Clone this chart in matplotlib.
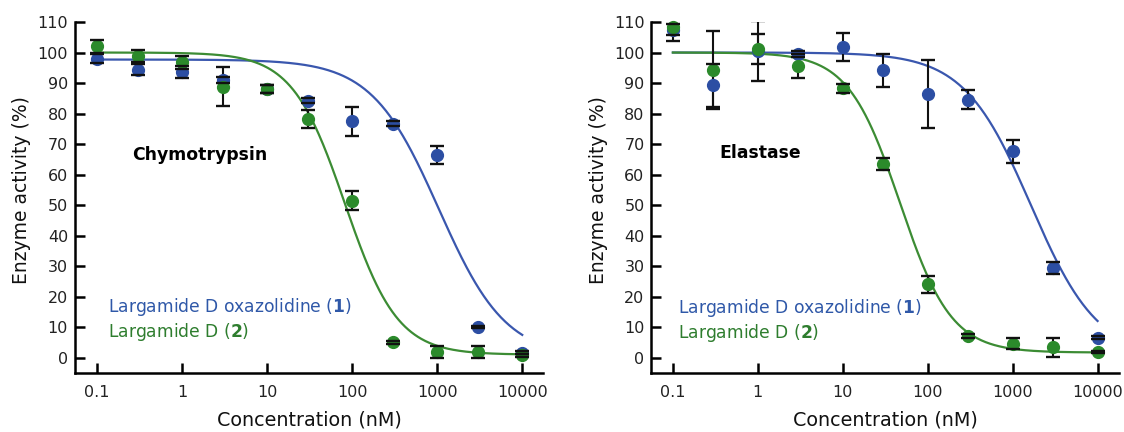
import numpy as np
import matplotlib
matplotlib.use('Agg')
import matplotlib.pyplot as plt
from matplotlib.ticker import NullLocator

plt.rcParams['font.family'] = 'DejaVu Sans'
plt.rcParams['mathtext.fontset'] = 'dejavusans'

# concentrations (nM)
conc = [0.1, 0.3, 1, 3, 10, 30, 100, 300, 1000, 3000, 10000]
tick_vals = [0.1, 1, 10, 100, 1000, 10000]
tick_labels = ['0.1', '1', '10', '100', '1000', '10000']

# chymotrypsin, mean and error
chymo_blue = [98.0, 94.3, 93.6, 91.1, 88.0, 84.2, 77.4, 76.6, 66.5, 10.1, 1.6]
chymo_blue_err = [1.6, 1.8, 1.9, 1.0, 1.3, 0.8, 4.8, 0.8, 3.0, 0.4, 0.5]
chymo_green = [102.0, 98.9, 96.8, 88.8, 88.0, 78.2, 51.5, 5.0, 2.0, 2.0, 0.8]
chymo_green_err = [2.0, 1.9, 2.1, 6.4, 1.3, 3.0, 3.0, 0.5, 2.0, 2.0, 0.5]

# elastase, mean and error
elast_blue = [107.5, 89.2, 100.4, 99.4, 101.8, 94.2, 86.4, 84.6, 67.6, 29.4, 6.6]
elast_blue_err = [1.7, 7.0, 9.8, 1.0, 4.6, 5.4, 11.0, 3.2, 3.8, 1.9, 0.5]
elast_green = [108.2, 94.3, 101.1, 95.6, 88.3, 63.5, 24.1, 7.1, 4.6, 3.4, 1.9]
elast_green_err = [4.4, 12.9, 5.0, 3.8, 1.5, 2.1, 2.8, 0.7, 1.8, 3.1, 0.4]

# fitted curves: top, bottom, IC50 (nM), hill slope
chymo_blue_fit = [97.7, 0.0, 1040, 1.1]
chymo_green_fit = [100.0, 1.0, 82, 1.4]
elast_blue_fit = [100.0, 0.0, 1640, 1.1]
elast_green_fit = [100.0, 1.7, 47, 1.43]

BLUE = '#2c4ea3'
GREEN = '#2b8a2b'
BLUE_LINE = '#3a57ae'
GREEN_LINE = '#3c8c34'
BLUE_TXT = '#2f58a8'
GREEN_TXT = '#2e7d2e'


def logistic(x, top, bottom, ic50, hill):
	return bottom + (top - bottom) / (1 + (x / ic50) ** hill)


def draw_panel(ax, blue, blue_err, green, green_err, blue_fit, green_fit,
               title, title_pos, legend_pos, xlim):
	xs = np.logspace(-1, 4, 400)
	ax.plot(xs, logistic(xs, *blue_fit), color=BLUE_LINE, lw=1.6, zorder=2)
	ax.plot(xs, logistic(xs, *green_fit), color=GREEN_LINE, lw=1.6, zorder=2)

	for y, err, col, z in ((blue, blue_err, BLUE, 3), (green, green_err, GREEN, 4)):
		ax.plot(conc, y, 'o', ms=8.5, color=col, mec=col, zorder=z, clip_on=False)
		eb = ax.errorbar(conc, y, yerr=err, fmt='none', ecolor='#111111',
		                 elinewidth=1.5, capsize=5, capthick=1.7, zorder=2.5)
		for cap in eb[1]:
			cap.set_zorder(6)

	ax.set_xscale('log')
	ax.set_xlim(xlim)
	ax.set_ylim(-5, 110)
	ax.set_xticks(tick_vals)
	ax.set_xticklabels(tick_labels)
	ax.xaxis.set_minor_locator(NullLocator())
	ax.set_yticks(range(0, 111, 10))

	for s in ['top', 'right']:
		ax.spines[s].set_visible(False)
	for s in ['left', 'bottom']:
		ax.spines[s].set_linewidth(1.8)

	ax.tick_params(axis='both', direction='in', length=7.5, width=1.8,
	               labelsize=11.5, labelcolor='#222222')
	ax.tick_params(axis='x', pad=9)
	ax.tick_params(axis='y', pad=5)

	ax.set_xlabel('Concentration (nM)', fontsize=13.8, color='#111111', va='center')
	ax.xaxis.set_label_coords(0.5, -0.134)
	ax.set_ylabel('Enzyme activity (%)', fontsize=13.5, color='#111111', va='center')
	ax.yaxis.set_label_coords(-0.114, 0.52)

	ax.text(title_pos[0], title_pos[1], title, transform=ax.transAxes,
	        fontsize=12.4, fontweight='bold', ha='left', va='center')
	ax.text(legend_pos[0], legend_pos[1], r'Largamide D oxazolidine ($\mathbf{1}$)',
	        transform=ax.transAxes, fontsize=12.3, color=BLUE_TXT, ha='left', va='center')
	ax.text(legend_pos[0], legend_pos[2], r'Largamide D ($\mathbf{2}$)',
	        transform=ax.transAxes, fontsize=12.3, color=GREEN_TXT, ha='left', va='center')


fig = plt.figure(figsize=(11.24, 4.32), dpi=100)
ax1 = fig.add_axes([0.0667, 0.1366, 0.4166, 0.8125])
ax2 = fig.add_axes([0.5796, 0.1366, 0.4163, 0.8125])

draw_panel(ax1, chymo_blue, chymo_blue_err, chymo_green, chymo_green_err,
           chymo_blue_fit, chymo_green_fit, 'Chymotrypsin', (0.122, 0.621),
           (0.071, 0.188, 0.117), (10 ** -1.262, 10 ** 4.247))
draw_panel(ax2, elast_blue, elast_blue_err, elast_green, elast_green_err,
           elast_blue_fit, elast_green_fit, 'Elastase', (0.145, 0.628),
           (0.056, 0.186, 0.114), (10 ** -1.252, 10 ** 4.257))

fig.savefig('out.png', dpi=100)
